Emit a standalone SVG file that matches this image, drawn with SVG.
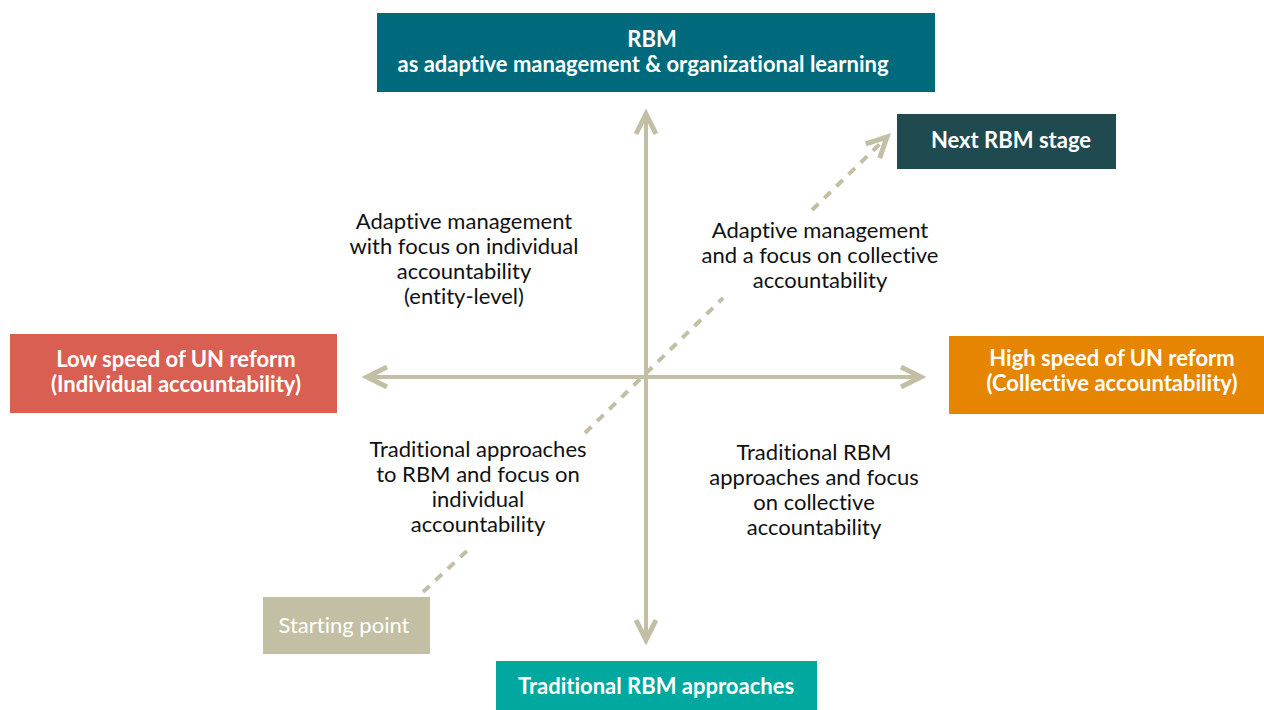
<svg xmlns="http://www.w3.org/2000/svg" width="1264" height="710" viewBox="0 0 1264 710">
<style>
text{font-variant-ligatures:none;font-feature-settings:"liga" 0,"dlig" 0}
.bt{font-family:Lato,"Open Sans","Liberation Sans",sans-serif;font-weight:bold;font-size:22px;fill:#ffffff;text-anchor:middle}
.lb{font-family:Lato,"Open Sans","Liberation Sans",sans-serif;font-size:22px;fill:#111111;text-anchor:middle}
.ax{stroke:#c2bfa5;stroke-width:4;fill:none}
.dash{stroke:#c2bfa5;stroke-width:4;fill:none;stroke-dasharray:9 8}
</style>
<defs>
<marker id="chev" markerUnits="userSpaceOnUse" markerWidth="30" markerHeight="30" viewBox="-20 -12 24 24" refX="0" refY="0" orient="auto">
<path d="M-16,-8 L0,0 L-16,8" fill="none" stroke="#c2bfa5" stroke-width="4" stroke-linejoin="miter"/>
</marker>
</defs>
<rect width="1264" height="710" fill="#ffffff"/>
<g id="connectors">
<line class="ax" x1="646" y1="640" x2="646" y2="114" marker-end="url(#chev)"/>
<line class="ax" x1="646" y1="200" x2="646" y2="640" marker-end="url(#chev)"/>
<line class="ax" x1="367" y1="377" x2="921" y2="377" marker-end="url(#chev)"/>
<line class="ax" x1="800" y1="377" x2="367" y2="377" marker-end="url(#chev)"/>
<line class="dash" x1="423" y1="592" x2="470" y2="548"/>
<line class="dash" x1="585" y1="433" x2="723" y2="298"/>
<line class="dash" x1="812" y1="210" x2="887" y2="137" marker-end="url(#chev)"/>
</g>
<g id="top">
<rect x="377" y="13" width="558" height="79" fill="#006a7d"/>
<text class="bt" x="652" y="47">RBM</text>
<text class="bt" x="643" y="72">as adaptive management &amp; organizational learning</text>
</g>
<g id="next">
<rect x="897" y="114" width="219" height="55" fill="#1f4a4f"/>
<text class="bt" x="1011" y="148">Next RBM stage</text>
</g>
<g id="low">
<rect x="10" y="334" width="327" height="79" fill="#d95f52"/>
<text class="bt" x="176" y="367">Low speed of UN reform</text>
<text class="bt" x="176" y="392">(Individual accountability)</text>
</g>
<g id="high">
<rect x="949" y="336" width="315" height="78" fill="#e68600"/>
<text class="bt" x="1112" y="366">High speed of UN reform</text>
<text class="bt" x="1112" y="391">(Collective accountability)</text>
</g>
<g id="start">
<rect x="263" y="597" width="167" height="57" fill="#c2bfa5"/>
<text class="bt" x="344" y="633" style="font-weight:normal">Starting point</text>
</g>
<g id="bottom">
<rect x="496" y="661" width="321" height="49" fill="#00a8a0"/>
<text class="bt" x="656" y="694">Traditional RBM approaches</text>
</g>
<g id="q1">
<text class="lb" x="464" y="229">Adaptive management</text>
<text class="lb" x="464" y="254">with focus on individual</text>
<text class="lb" x="464" y="279">accountability</text>
<text class="lb" x="464" y="304">(entity-level)</text>
</g>
<g id="q2">
<text class="lb" x="820" y="238">Adaptive management</text>
<text class="lb" x="820" y="263">and a focus on collective</text>
<text class="lb" x="820" y="288">accountability</text>
</g>
<g id="q3">
<text class="lb" x="478" y="457">Traditional approaches</text>
<text class="lb" x="478" y="482">to RBM and focus on</text>
<text class="lb" x="478" y="507">individual</text>
<text class="lb" x="478" y="532">accountability</text>
</g>
<g id="q4">
<text class="lb" x="814" y="460">Traditional RBM</text>
<text class="lb" x="814" y="485">approaches and focus</text>
<text class="lb" x="814" y="510">on collective</text>
<text class="lb" x="814" y="535">accountability</text>
</g>
</svg>
